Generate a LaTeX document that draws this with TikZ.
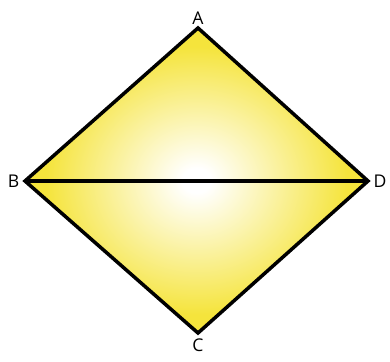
\documentclass[tikz,border=0pt]{standalone}
\usepackage{fontspec}
\setsansfont{Open Sans}
\usetikzlibrary{positioning}
\definecolor{rhombyellow}{RGB}{245,228,60}
\pgfdeclareradialshading{rhombglow}{\pgfpoint{0cm}{0cm}}{%
  color(0bp)=(white); color(2bp)=(white); color(22bp)=(rhombyellow);
  color(50bp)=(rhombyellow)}

\begin{document}
\begin{tikzpicture}[x=0.02cm, y=-0.02cm,
  vertex/.style={font=\sffamily, inner sep=1pt},
  edge/.style={draw=black, line width=2pt, line join=miter}
]
\useasboundingbox (0,0) rectangle (390,362);

% Corners
\coordinate (a) at (198,28);
\coordinate (b) at (25,181);
\coordinate (c) at (198,333);
\coordinate (d) at (368,181);

% Shaded rhombus
\shade[shading=rhombglow] (a) -- (b) -- (c) -- (d) -- cycle;
\draw[edge] (a) -- (b) -- (c) -- (d) -- cycle;
\draw[edge] (b) -- (d);

% Labels
\node[vertex, above=1pt of a] (la) {A};
\node[vertex, left=2pt of b] (lb) {B};
\node[vertex, below=2pt of c] (lc) {C};
\node[vertex, right=2pt of d] (ld) {D};
\end{tikzpicture}
\end{document}
